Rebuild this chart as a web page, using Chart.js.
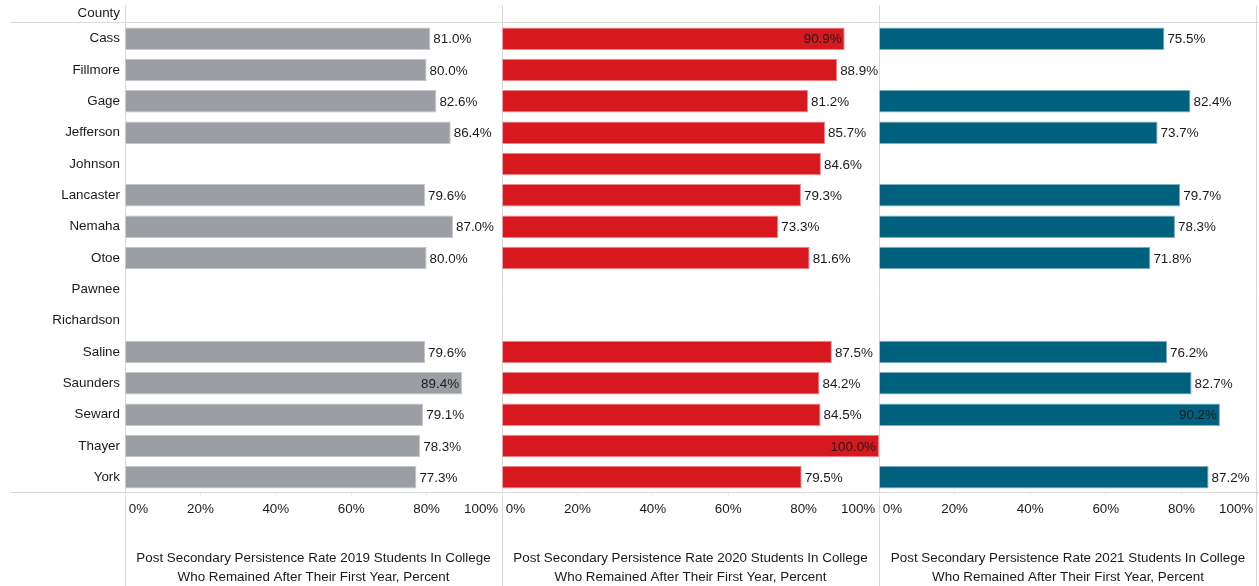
<!DOCTYPE html>
<html>
<head>
<meta charset="utf-8">
<script src="https://cdn.jsdelivr.net/npm/chart.js@4.4.1/dist/chart.umd.min.js"></script>
<style>
  html, body { margin: 0; padding: 0; background: #fff; }
  #wrap { position: relative; width: 1259px; height: 586px; overflow: hidden; }
  canvas { position: absolute; top: 0; }
</style>
</head>
<body>
<div id="wrap">
  <canvas id="c2019" width="502" height="586" style="left:0px;width:502px;height:586px"></canvas>
  <canvas id="c2020" width="377" height="586" style="left:502px;width:377px;height:586px"></canvas>
  <canvas id="c2021" width="380" height="586" style="left:879px;width:380px;height:586px"></canvas>
</div>
<script>
// ---- data ----
const counties = ["Cass","Fillmore","Gage","Jefferson","Johnson","Lancaster","Nemaha","Otoe","Pawnee","Richardson","Saline","Saunders","Seward","Thayer","York"];
const rate2019 = [81.0, 80.0, 82.6, 86.4, null, 79.6, 87.0, 80.0, null, null, 79.6, 89.4, 79.1, 78.3, 77.3];
const rate2020 = [90.9, 88.9, 81.2, 85.7, 84.6, 79.3, 73.3, 81.6, null, null, 87.5, 84.2, 84.5, 100.0, 79.5];
const rate2021 = [75.5, null, 82.4, 73.7, null, 79.7, 78.3, 71.8, null, null, 76.2, 82.7, 90.2, null, 87.2];
const tickValues = [0, 20, 40, 60, 80, 100];
const rowHeader = "County";
const titles2019 = ["Post Secondary Persistence Rate 2019 Students In College", "Who Remained After Their First Year, Percent"];
const titles2020 = ["Post Secondary Persistence Rate 2020 Students In College", "Who Remained After Their First Year, Percent"];
const titles2021 = ["Post Secondary Persistence Rate 2021 Students In College", "Who Remained After Their First Year, Percent"];

// ---- styles ----
const FONT = "'Liberation Sans', Arial, sans-serif";
const FSIZE = 13.4;
const TEXT = '#1a1a1a';
const LINE = '#d9d9d9';

const valueLabels = {
  id: 'valueLabels',
  afterDatasetsDraw(chart) {
    const ctx = chart.ctx;
    const area = chart.chartArea;
    ctx.save();
    ctx.font = FSIZE + 'px ' + FONT;
    ctx.fillStyle = TEXT;
    ctx.textBaseline = 'middle';
    const meta = chart.getDatasetMeta(0);
    const data = chart.data.datasets[0].data;
    meta.data.forEach((bar, i) => {
      const v = data[i];
      if (v === null || v === undefined) return;
      const txt = v.toFixed(1) + '%';
      const w = ctx.measureText(txt).width;
      if (bar.x + 3 + w > area.right - 0.5) {
        ctx.textAlign = 'right';
        ctx.fillText(txt, bar.x - 3, bar.y + 1);
      } else {
        ctx.textAlign = 'left';
        ctx.fillText(txt, bar.x + 3, bar.y + 1);
      }
    });
    ctx.restore();
  }
};

function framePlugin(opts) {
  return {
    id: 'frame',
    beforeDraw(chart) {
      const ctx = chart.ctx;
      const area = chart.chartArea;
      ctx.save();
      ctx.strokeStyle = LINE;
      ctx.lineWidth = 1;
      const x0 = opts.hStart;
      const x1 = chart.width;
      [area.top, area.bottom].forEach(y => {
        const yy = Math.round(y) - 0.5;
        ctx.beginPath(); ctx.moveTo(x0, yy); ctx.lineTo(x1, yy); ctx.stroke();
      });
      const vx = [Math.round(area.left) + 0.5];
      if (opts.rightLine) vx.push(Math.round(area.right) - 0.5);
      vx.forEach(x => {
        ctx.beginPath(); ctx.moveTo(x, 5); ctx.lineTo(x, chart.height); ctx.stroke();
      });
      if (opts.header) {
        ctx.font = FSIZE + 'px ' + FONT;
        ctx.fillStyle = TEXT;
        ctx.textAlign = 'right';
        ctx.textBaseline = 'middle';
        ctx.fillText(opts.header, area.left - 5, 13);
      }
      ctx.restore();
    }
  };
}

function tickText(v) {
  const s = v + '%';
  if (v === tickValues[0]) return ' ' + s;
  if (v === tickValues[tickValues.length - 1]) return s + ' ';
  return s;
}

function makeChart(id, values, color, border, titleLines, showY, padRight, frameOpts) {
  return new Chart(document.getElementById(id), {
    type: 'bar',
    data: {
      labels: counties,
      datasets: [{
        data: values,
        backgroundColor: color,
        borderColor: border,
        borderWidth: 1,
        barPercentage: 0.72,
        categoryPercentage: 1.0
      }]
    },
    options: {
      indexAxis: 'y',
      responsive: false,
      animation: false,
      devicePixelRatio: 1,
      layout: { padding: { top: 23, right: padRight, left: 0, bottom: 0 } },
      plugins: { legend: { display: false }, tooltip: { enabled: false }, title: { display: false } },
      scales: {
        x: {
          type: 'linear',
          min: 0, max: 100,
          afterBuildTicks(scale) { scale.ticks = tickValues.map(v => ({ value: v })); },
          afterFit(scale) { scale.height = 93; scale.paddingLeft = 0; scale.paddingRight = 0; },
          border: { display: false },
          grid: { display: true, drawOnChartArea: false, drawTicks: true, tickLength: 4, tickColor: '#eeeeee' },
          ticks: {
            align: 'inner',
            padding: 4,
            color: TEXT,
            font: { family: FONT, size: FSIZE },
            maxRotation: 0,
            callback: v => tickText(v)
          },
          title: {
            display: true,
            text: titleLines,
            color: TEXT,
            font: { family: FONT, size: FSIZE, lineHeight: '19px' },
            padding: { top: 0, bottom: -1 }
          }
        },
        y: {
          display: showY,
          afterFit(scale) { if (showY) scale.width = 125; },
          border: { display: false },
          grid: { display: false, drawTicks: false },
          ticks: {
            padding: 5,
            color: TEXT,
            font: { family: FONT, size: FSIZE }
          }
        }
      }
    },
    plugins: [framePlugin(frameOpts), valueLabels]
  });
}

makeChart('c2019', rate2019, '#9b9ea3', '#c4c6c9', titles2019, true, 0, { hStart: 10, rightLine: false, header: rowHeader });
makeChart('c2020', rate2020, '#d7191f', '#e9878a', titles2020, false, 0, { hStart: 0, rightLine: false });
makeChart('c2021', rate2021, '#00617f', '#7fafbf', titles2021, false, 2, { hStart: 0, rightLine: true });
</script>
</body>
</html>
